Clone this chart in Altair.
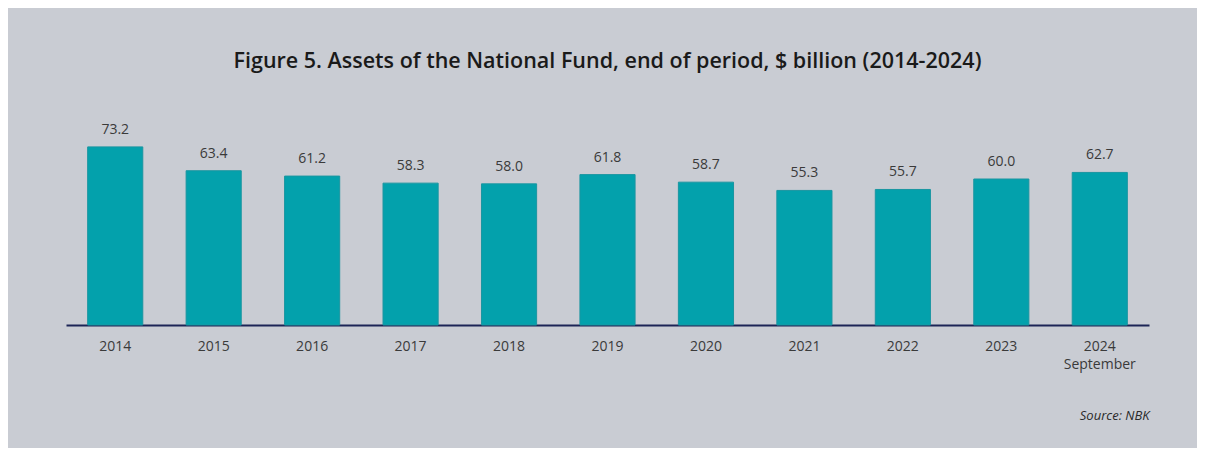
import altair as alt
import pandas as pd

years = ["2014", "2015", "2016", "2017", "2018", "2019", "2020", "2021", "2022", "2023", "2024 September"]
assets = [73.2, 63.4, 61.2, 58.3, 58.0, 61.8, 58.7, 55.3, 55.7, 60.0, 62.7]
labels = ["73.2", "63.4", "61.2", "58.3", "58.0", "61.8", "58.7", "55.3", "55.7", "60.0", "62.7"]

df = pd.DataFrame({"year": years, "value": assets, "label": labels})

FONT = "Open Sans"

x = alt.X(
    "year:N",
    sort=years,
    scale=alt.Scale(paddingInner=0.44, paddingOuter=0.22),
    axis=alt.Axis(
        title="Source: NBK",
        titleAnchor="end",
        titleFontStyle="italic",
        titleFontWeight="normal",
        titleFont=FONT,
        titleFontSize=13,
        titleColor="#2a2a2a",
        titlePadding=38,
        labelAngle=0,
        labelFont=FONT,
        labelFontSize=14,
        labelColor="#3a3a3a",
        labelPadding=14,
        labelLineHeight=18,
        labelExpr="split(datum.label, ' ')",
        ticks=False,
        domainColor="#1c2456",
        domainWidth=2,
        grid=False,
    ),
)
y = alt.Y("value:Q", scale=alt.Scale(domain=[0, 90]), axis=None)

bars = alt.Chart(df).mark_bar(color="#03a1ac", stroke="#1a96a1", strokeWidth=1).encode(x=x, y=y)
text = alt.Chart(df).mark_text(
    baseline="bottom", dy=-10, font=FONT, fontSize=14, color="#3a3a3a"
).encode(x=x, y=y, text="label:N")

chart = (
    alt.layer(bars, text)
    .properties(
        width=1083,
        height=219,
        padding={"left": 58, "top": 98, "right": 48, "bottom": 123},
        autosize=alt.AutoSizeParams(type="none"),
        background="#c9ccd3",
        title=alt.TitleParams(
            "Figure 5. Assets of the National Fund, end of period, $ billion (2014-2024)",
            font=FONT,
            fontSize=21.5,
            fontWeight=600,
            color="#1a1a1a",
            anchor="middle",
            offset=34,
        ),
    )
    .configure_view(stroke=None)
)

chart.save("out.html", embed_options={"renderer": "svg", "actions": False})
